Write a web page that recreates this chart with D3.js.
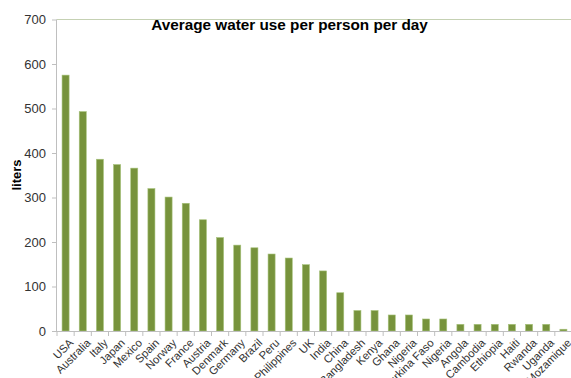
<!DOCTYPE html>
<html><head><meta charset="utf-8">
<script src="https://cdn.jsdelivr.net/npm/d3@7"></script>
<style>body{margin:0;background:#fff;}svg{display:block;font-family:"Liberation Sans",Arial,sans-serif;}</style>
</head><body><svg id="c" width="571" height="378"></svg>
<script>
const countries = ["USA","Australia","Italy","Japan","Mexico","Spain","Norway","France","Austria","Denmark","Germany","Brazil","Peru","Philippines","UK","India","China","Bangladesh","Kenya","Ghana","Nigeria","Burkina Faso","Nigeria","Angola","Cambodia","Ethiopia","Haiti","Rwanda","Uganda","Mozamique"];
const liters = [575,493,386,374,366,320,301,287,250,210,193,187,173,164,149,135,86,46,46,36,36,27,27,15,15,15,15,15,15,4];
const yTicks = [0,100,200,300,400,500,600,700];
const title = "Average water use per person per day";
const yLabel = "liters";

const svg = d3.select("#c");
const pLeft = 57, pRight = 572, pTop = 19.5, pBottom = 331;
const x = d3.scaleBand().domain(d3.range(countries.length)).range([pLeft, pRight]).paddingInner(0.59).paddingOuter(0.295);
const y = d3.scaleLinear().domain([0,700]).range([pBottom, pTop]);

// top border line
svg.append("line").attr("x1", pLeft).attr("x2", 571).attr("y1", y(700)).attr("y2", y(700))
  .attr("stroke", "#c5d1b3").attr("stroke-width", 1);

// bars
svg.append("g").selectAll("rect").data(liters).join("rect")
  .attr("x", (d,i) => x(i)).attr("width", x.bandwidth())
  .attr("y", d => y(d)).attr("height", d => pBottom - y(d))
  .attr("fill", "#77933c").attr("stroke", "#a6c27a").attr("stroke-width", 0.6);

// y axis
const yAxis = d3.axisLeft(y).tickValues(yTicks).tickSize(5).tickPadding(6);
const gy = svg.append("g").attr("transform", `translate(${pLeft},0)`).call(yAxis);
gy.select(".domain").attr("stroke", "#bfbfbf").attr("d", `M-0.5,${pTop}V${pBottom}`);
gy.selectAll(".tick line").attr("stroke", "#bfbfbf");
gy.selectAll("text").attr("font-size", 13).attr("fill", "#333").attr("font-family", "Liberation Sans, Arial, sans-serif");

// x axis
const xs = d3.scaleLinear().domain([0, countries.length]).range([pLeft, pRight]);
const gx = svg.append("g").attr("transform", `translate(0,${pBottom})`);
gx.append("line").attr("x1", pLeft).attr("x2", 571).attr("y1", 0.5).attr("y2", 0.5).attr("stroke", "#bfbfbf");
gx.selectAll("line.t").data(d3.range(countries.length + 1)).join("line").attr("class","t")
  .attr("x1", d => xs(d)).attr("x2", d => xs(d)).attr("y1", 0).attr("y2", 5).attr("stroke", "#bfbfbf");
gx.selectAll("text").data(countries).join("text")
  .attr("transform", (d,i) => `translate(${x(i) + x.bandwidth()/2 + 3},${7}) rotate(-45)`)
  .attr("text-anchor", "end").attr("dy", "0.7em")
  .attr("font-size", 11.2).attr("fill", "#333").text(d => d);

// title
svg.append("text").attr("x", 289.5).attr("y", 30).attr("text-anchor", "middle")
  .attr("font-size", 15.3).attr("font-weight", "bold").attr("fill", "#000").text(title);

// y label
svg.append("text").attr("transform", "translate(21,175) rotate(-90)").attr("text-anchor", "middle")
  .attr("font-size", 13).attr("font-weight", "bold").attr("fill", "#000").text(yLabel);
</script></body></html>
